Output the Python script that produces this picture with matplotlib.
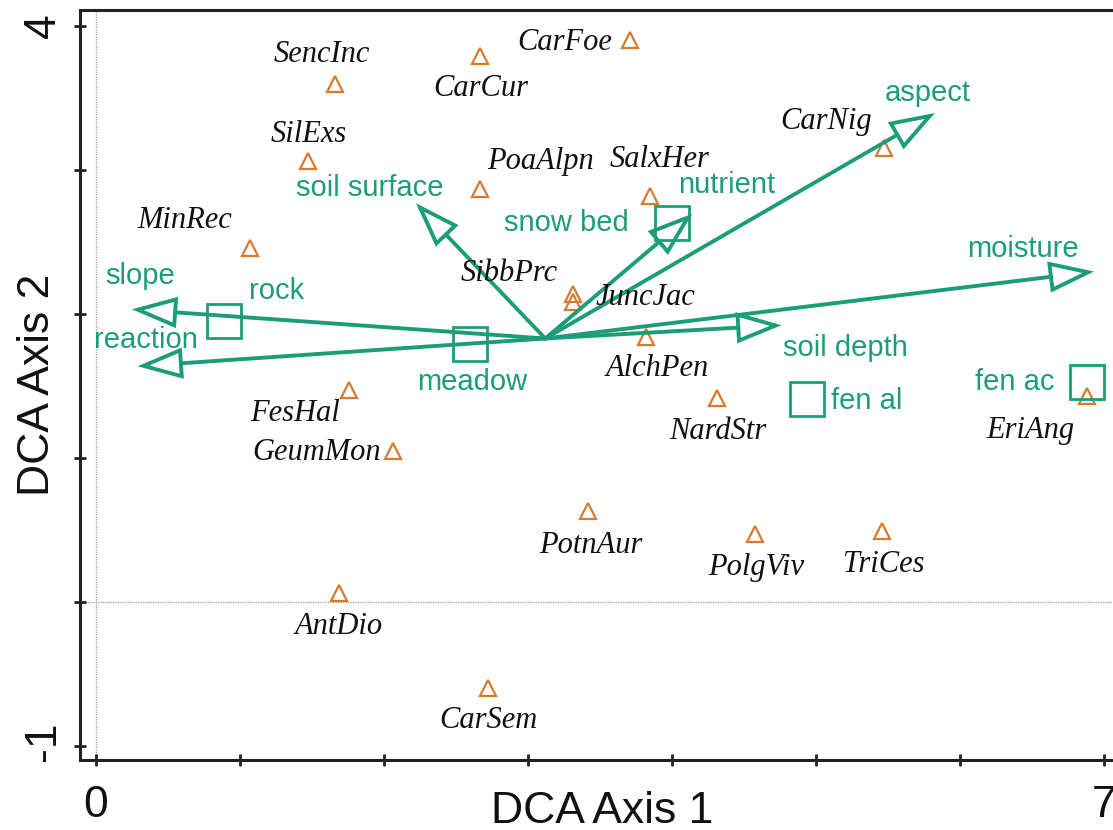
import numpy as np
import matplotlib
matplotlib.use("Agg")
import matplotlib.pyplot as plt
from matplotlib.patches import Polygon
import matplotlib.transforms as mtransforms

# ---------------- data ----------------
species = ["SencInc", "CarCur", "CarFoe", "SilExs", "PoaAlpn", "SalxHer", "CarNig",
           "MinRec", "SibbPrc", "JuncJac", "AlchPen", "FesHal", "GeumMon", "NardStr",
           "EriAng", "PotnAur", "PolgViv", "TriCes", "AntDio", "CarSem"]
species_x = [1.66, 2.67, 3.71, 1.47, 2.67, 3.85, 5.47, 1.07, 3.31, 3.31, 3.82, 1.76,
             2.06, 4.31, 6.88, 3.42, 4.58, 5.46, 1.69, 2.72]
species_y = [3.60, 3.79, 3.90, 3.06, 2.87, 2.82, 3.15, 2.46, 2.14, 2.08, 1.84, 1.47,
             1.05, 1.42, 1.43, 0.63, 0.47, 0.49, 0.06, -0.60]

env_vars = ["aspect", "nutrient", "soil surface", "moisture", "slope", "reaction", "soil depth"]
env_x = [5.79, 4.11, 2.25, 6.89, 0.29, 0.33, 4.72]
env_y = [3.375, 2.67, 2.74, 2.29, 2.03, 1.64, 1.92]
origin = (3.12, 1.83)

factors = ["snow bed", "rock", "meadow", "fen al", "fen ac"]
factor_x = [4.00, 0.89, 2.60, 4.94, 6.88]
factor_y = [2.63, 1.95, 1.79, 1.41, 1.53]

x_ticks = [0, 1, 2, 3, 4, 5, 6, 7]
x_ticklabels = {0: "0", 7: "7"}
y_ticks = [-1, 0, 1, 2, 3, 4]
y_ticklabels = {-1: "-1", 4: "4"}
x_title = "DCA Axis 1"
y_title = "DCA Axis 2"

# ---------------- label placement (pixels) ----------------
species_off = [(-13, 29), (0, -32), (-65, -2), (1, 27), (60, 27), (9, 36), (-58, 27),
               (-65, 27), (-63, 20), (73, 5), (11, -31), (-54, -23), (-76, -2), (1, -34),
               (-56, -34), (2, -34), (1, -33), (2, -33), (-1, -33), (1, -32)]
env_off = [(-2, 23), (39, 33), (-50, 19), (-65, 23), (2, 34), (2, 26), (70, -22)]
factor_off = [(-106, 0), (52, 30), (2, -38), (59, -2), (-72, 0)]
yticklabel_shift = {-1: 5, 4: 0}   # pixels upward

GREEN = "#1B9E77"
ORANGE = "#D97B2E"
SANS = "Liberation Sans"
SERIF = "Liberation Serif"

fig = plt.figure(figsize=(11.13, 8.30), dpi=100)
W, H = 1113, 830
# axes pixel box: left 80, right 1125 (beyond edge), top 10, bottom 760
ax = fig.add_axes([80 / W, (H - 760) / H, (1125 - 80) / W, (760 - 10) / H])
ax.set_xlim(-0.111, 7.146)
ax.set_ylim(-1.097, 4.111)

for s in ax.spines.values():
    s.set_linewidth(2.2)
    s.set_color("#222222")

ax.axvline(0, color="#999999", lw=0.9, ls=(0, (1, 1)), zorder=0)
ax.axhline(0, color="#999999", lw=0.9, ls=(0, (1, 1)), zorder=0)

ax.set_xticks(x_ticks)
ax.set_yticks(y_ticks)
ax.set_xticklabels([])
ax.set_yticklabels([])
ax.tick_params(axis="both", direction="inout", length=9, width=2, color="#222222")

# tick labels & titles placed like R's mtext
tx_x = mtransforms.blended_transform_factory(ax.transData, fig.transFigure)
for v, s in x_ticklabels.items():
    ax.text(v, 1 - 817 / H, s, transform=tx_x, ha="center", va="baseline",
            fontsize=32, family=SANS, color="#111111", clip_on=False)
for v, s in y_ticklabels.items():
    off = mtransforms.ScaledTranslation(0, yticklabel_shift[v] / 100, fig.dpi_scale_trans)
    tx_y = mtransforms.blended_transform_factory(fig.transFigure, ax.transData) + off
    ax.text(55 / W, v, s, transform=tx_y, ha="center", va="baseline", rotation=90,
            rotation_mode="anchor", fontsize=32, family=SANS, color="#111111",
            clip_on=False)
fig.text(602 / W, 1 - 823 / H, x_title, ha="center", va="baseline",
         fontsize=32, family=SANS, color="#111111")
fig.text(49 / W, 1 - 385 / H, y_title, ha="center", va="baseline", rotation=90,
         rotation_mode="anchor", fontsize=32, family=SANS, color="#111111")

# species triangles
ax.plot(species_x, species_y, ls="none", marker="^", ms=11, mfc="none",
        mec=ORANGE, mew=1.6, zorder=3)
for name, x, y, (dx, dy) in zip(species, species_x, species_y, species_off):
    ax.annotate(name, (x, y), xytext=(dx, dy), textcoords="offset pixels",
                ha="center", va="center", fontsize=22, family=SERIF,
                style="italic", color="#111111", zorder=5)

# environmental arrows (line + open triangular head)
head_len = 0.26
head_half = 0.09
for name, tx, ty, (dx, dy) in zip(env_vars, env_x, env_y, env_off):
    vx, vy = tx - origin[0], ty - origin[1]
    L = np.hypot(vx, vy)
    ux, uy = vx / L, vy / L
    bx, by = tx - ux * head_len, ty - uy * head_len
    ax.plot([origin[0], bx], [origin[1], by], color=GREEN, lw=2.8,
            solid_capstyle="round", zorder=4)
    px, py = -uy, ux
    tri = Polygon([(tx, ty), (bx + px * head_half, by + py * head_half),
                   (bx - px * head_half, by - py * head_half)], closed=True,
                  facecolor="none", edgecolor=GREEN, lw=2.8, joinstyle="miter",
                  zorder=4)
    ax.add_patch(tri)
    ax.annotate(name, (tx, ty), xytext=(dx, dy), textcoords="offset pixels",
                ha="center", va="center", fontsize=21, family=SANS,
                color=GREEN, zorder=5)

# factor centroids
ax.plot(factor_x, factor_y, ls="none", marker="s", ms=24, mfc="none",
        mec=GREEN, mew=2.0, zorder=4)
for name, x, y, (dx, dy) in zip(factors, factor_x, factor_y, factor_off):
    ax.annotate(name, (x, y), xytext=(dx, dy), textcoords="offset pixels",
                ha="center", va="center", fontsize=21, family=SANS,
                color=GREEN, zorder=5)

fig.savefig("out.png", dpi=100)
